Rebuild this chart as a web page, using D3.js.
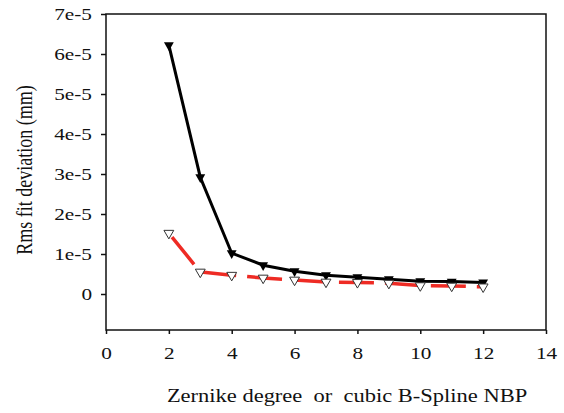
<!DOCTYPE html>
<html>
<head>
<meta charset="utf-8">
<script src="https://cdn.jsdelivr.net/npm/d3@7"></script>
<style>
  body { margin: 0; background: #fff; }
</style>
</head>
<body>
<svg id="chart" width="564" height="413"></svg>
<script>
const degrees = [2, 3, 4, 5, 6, 7, 8, 9, 10, 11, 12];
const zernike = [6.22e-5, 2.92e-5, 1.02e-5, 0.72e-5, 0.57e-5, 0.47e-5, 0.42e-5, 0.37e-5, 0.32e-5, 0.31e-5, 0.29e-5];
const spline = [1.52e-5, 0.55e-5, 0.47e-5, 0.40e-5, 0.35e-5, 0.30e-5, 0.29e-5, 0.27e-5, 0.21e-5, 0.20e-5, 0.18e-5];
const xTicks = [0, 2, 4, 6, 8, 10, 12, 14];
const yTicks = [0, 1e-5, 2e-5, 3e-5, 4e-5, 5e-5, 6e-5, 7e-5];
const yTickLabels = ['0', '1e-5', '2e-5', '3e-5', '4e-5', '5e-5', '6e-5', '7e-5'];

const svg = d3.select('#chart');
const mLeft = 106, mRight = 546, mTop = 14, mBottom = 330;
const serif = 'Liberation Serif';
const stretch = 1.25; // the source text is a bit wide

const x = d3.scaleLinear().domain([0, 14]).range([mLeft, mRight]);
const y = d3.scaleLinear().domain([-0.9e-5, 7e-5]).range([mBottom, mTop]);

// frame
svg.append('rect')
  .attr('x', mLeft).attr('y', mTop)
  .attr('width', mRight - mLeft).attr('height', mBottom - mTop)
  .attr('fill', 'none').attr('stroke', '#111').attr('stroke-width', 1.5);

// X Axis
const xAxis = svg.append('g')
  .attr('transform', `translate(0, ${mBottom})`)
  .call(d3.axisBottom(x).tickValues(xTicks).tickSize(4).tickPadding(13).tickFormat(d3.format('d')));
xAxis.attr('font-family', serif);
xAxis.select('.domain').remove();
xAxis.selectAll('line').attr('stroke', '#111').attr('stroke-width', 1.5);
xAxis.selectAll('text')
  .attr('font-size', 17).attr('font-family', serif).style('font-family', serif).attr('fill', '#111')
  .attr('transform', `scale(${stretch},1)`);

// Y Axis
const yAxis = svg.append('g')
  .attr('transform', `translate(${mLeft}, 0)`)
  .call(d3.axisLeft(y).tickValues(yTicks).tickSize(5).tickPadding(9)
    .tickFormat((d, i) => yTickLabels[i]));
yAxis.attr('font-family', serif);
yAxis.select('.domain').remove();
yAxis.selectAll('line').attr('stroke', '#111').attr('stroke-width', 1.5);
yAxis.selectAll('text')
  .attr('font-size', 17).attr('font-family', serif).style('font-family', serif).attr('fill', '#111')
  .attr('x', -14 / stretch)
  .attr('transform', `scale(${stretch},1)`);

// axis titles
svg.append('text')
  .attr('transform', `translate(347, 402) scale(${stretch},1)`)
  .attr('text-anchor', 'middle')
  .attr('font-family', serif)
  .attr('font-size', 18)
  .attr('fill', '#111')
  .attr('xml:space', 'preserve')
  .text('Zernike degree  or  cubic B-Spline NBP');

svg.append('text')
  .attr('transform', `translate(32, 170) scale(${stretch},1) rotate(-90)`)
  .attr('text-anchor', 'middle')
  .attr('font-family', serif)
  .attr('font-size', 18)
  .attr('fill', '#111')
  .text('Rms fit deviation (mm)');

const line = d3.line()
  .x((d, i) => x(degrees[i]))
  .y(d => y(d));

// red dashed series
svg.append('path')
  .datum(spline)
  .attr('d', line)
  .attr('fill', 'none')
  .attr('stroke', '#ee2b24')
  .attr('stroke-width', 3.5)
  .attr('stroke-dasharray', '35,11')
  .attr('stroke-dashoffset', 41);

// black series
svg.append('path')
  .datum(zernike)
  .attr('d', line)
  .attr('fill', 'none')
  .attr('stroke', '#000')
  .attr('stroke-width', 3);

const tri = d3.symbol().type(d3.symbolTriangle).size(42);

svg.selectAll('.m-black')
  .data(zernike)
  .enter()
  .append('path')
  .attr('class', 'm-black')
  .attr('d', tri)
  .attr('transform', (d, i) => `translate(${x(degrees[i])}, ${y(d)}) rotate(180)`)
  .attr('fill', '#000');

svg.selectAll('.m-red')
  .data(spline)
  .enter()
  .append('path')
  .attr('class', 'm-red')
  .attr('d', tri)
  .attr('transform', (d, i) => `translate(${x(degrees[i])}, ${y(d)}) rotate(180)`)
  .attr('fill', '#fff')
  .attr('stroke', '#333')
  .attr('stroke-width', 1);
</script>
</body>
</html>
